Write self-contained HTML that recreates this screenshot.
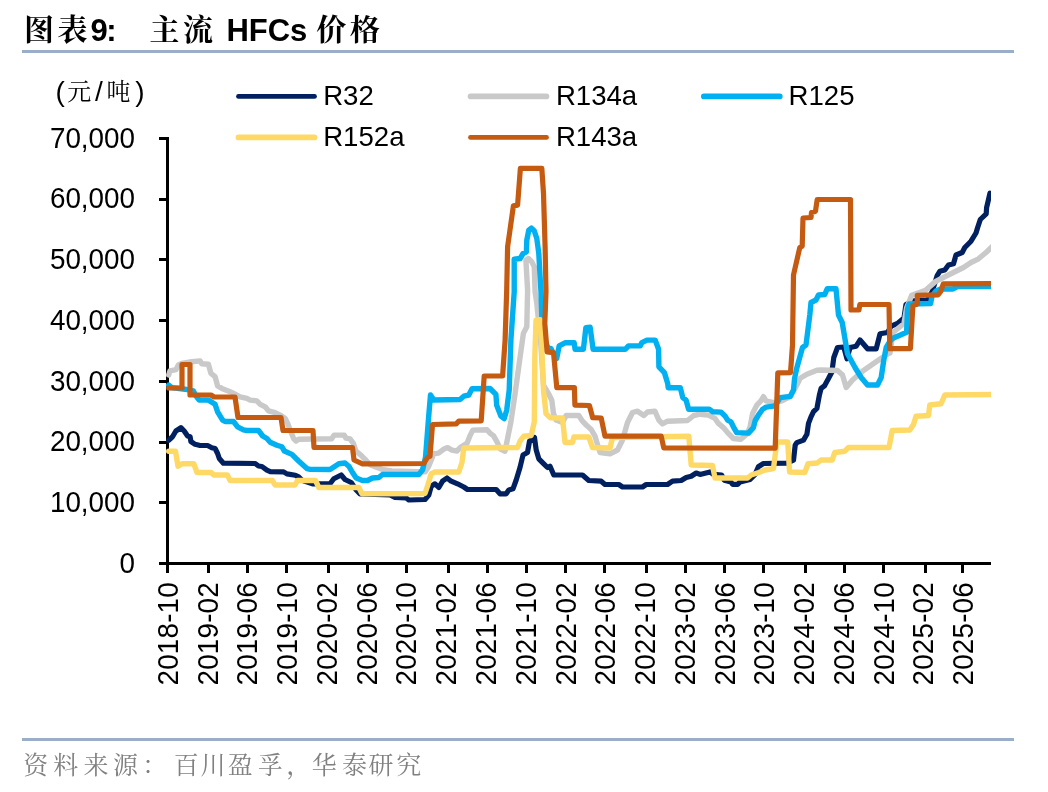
<!DOCTYPE html>
<html lang="zh-CN"><head><meta charset="utf-8"><title>图表9: 主流 HFCs 价格</title>
<style>
html,body{margin:0;padding:0;background:#fff}
body{width:1048px;height:792px;position:relative;overflow:hidden;font-family:"Liberation Sans","Noto Serif CJK SC",serif}
.t{position:absolute;white-space:pre;line-height:1}
.title{font-weight:bold;font-size:30px;color:#000;top:14.8px}
.title .c{display:inline-block;width:33.5px;text-align:center}
.lat{font-size:31px;top:15px}
.rule{position:absolute;left:22px;width:991.5px;height:3px;background:#9AAEC9}
.src{position:absolute;left:0;top:753px;height:30px;width:500px;font-size:25px;color:#808080;line-height:1;white-space:pre}
.src span{position:absolute;top:0;text-align:center;display:block}
.unit{font-size:28px;color:#000;top:76.7px}
.unit span{font-size:28px;vertical-align:middle}
.unit span.k{font-size:24px}
</style></head><body>
<div class="t title" style="left:22.2px"><span class="c">图</span><span class="c">表</span></div>
<div class="t title lat" style="left:90.5px;letter-spacing:-1.5px">9:</div>
<div class="t title" style="left:147.7px"><span class="c">主</span><span class="c">流</span></div>
<div class="t title lat" style="left:226.4px">HFCs</div>
<div class="t title" style="left:314.4px"><span class="c">价</span><span class="c">格</span></div>
<div class="rule" style="top:50px"></div>
<div class="t unit" style="left:55.4px"><span style="display:inline-block;width:10px">(</span><span class="k" style="display:inline-block;width:27.6px;text-align:center">元</span><span style="display:inline-block;width:11.6px;text-align:center">/</span><span class="k" style="display:inline-block;width:27.6px;text-align:center">吨</span><span style="display:inline-block;width:12.5px;text-align:right">)</span></div>
<svg width="1048" height="792" viewBox="0 0 1048 792" style="position:absolute;left:0;top:0">
<g stroke="#000" stroke-width="3" fill="none" shape-rendering="crispEdges">
<line x1="167.5" y1="137" x2="167.5" y2="572.5"/>
<line x1="159" y1="563.5" x2="991" y2="563.5"/>
<line x1="159" y1="502.79" x2="169" y2="502.79"/>
<line x1="159" y1="442.07" x2="169" y2="442.07"/>
<line x1="159" y1="381.36" x2="169" y2="381.36"/>
<line x1="159" y1="320.64" x2="169" y2="320.64"/>
<line x1="159" y1="259.93" x2="169" y2="259.93"/>
<line x1="159" y1="199.21" x2="169" y2="199.21"/>
<line x1="159" y1="138.50" x2="169" y2="138.50"/>
<line x1="208.40" y1="562" x2="208.40" y2="572.5"/>
<line x1="247.40" y1="562" x2="247.40" y2="572.5"/>
<line x1="286.40" y1="562" x2="286.40" y2="572.5"/>
<line x1="328.00" y1="562" x2="328.00" y2="572.5"/>
<line x1="367.30" y1="562" x2="367.30" y2="572.5"/>
<line x1="406.30" y1="562" x2="406.30" y2="572.5"/>
<line x1="448.20" y1="562" x2="448.20" y2="572.5"/>
<line x1="487.40" y1="562" x2="487.40" y2="572.5"/>
<line x1="526.40" y1="562" x2="526.40" y2="572.5"/>
<line x1="565.70" y1="562" x2="565.70" y2="572.5"/>
<line x1="604.50" y1="562" x2="604.50" y2="572.5"/>
<line x1="646.10" y1="562" x2="646.10" y2="572.5"/>
<line x1="685.40" y1="562" x2="685.40" y2="572.5"/>
<line x1="724.00" y1="562" x2="724.00" y2="572.5"/>
<line x1="763.30" y1="562" x2="763.30" y2="572.5"/>
<line x1="805.00" y1="562" x2="805.00" y2="572.5"/>
<line x1="844.30" y1="562" x2="844.30" y2="572.5"/>
<line x1="883.30" y1="562" x2="883.30" y2="572.5"/>
<line x1="925.20" y1="562" x2="925.20" y2="572.5"/>
<line x1="962.60" y1="562" x2="962.60" y2="572.5"/>
</g>
<defs><clipPath id="plot"><rect x="150" y="100" width="841" height="480"/></clipPath></defs>
<g clip-path="url(#plot)">
<polyline points="168.7,440.2 172.5,436.8 175.9,431.0 180.9,427.6 184.2,431.0 187.6,436.0 190.1,436.8 190.9,441.5 195.1,444.3 200.1,445.5 207.6,445.5 211.8,447.7 215.1,448.5 217.6,453.5 219.3,458.5 223.4,463.2 255.2,463.5 258.5,466.0 261.9,466.5 266.9,470.2 270.2,471.6 283.6,471.9 286.9,473.9 295.3,475.2 298.6,476.9 301.9,480.2 312.5,483.8 330.0,483.8 333.8,478.8 341.2,475.0 345.0,479.5 351.2,482.5 356.2,490.0 360.0,493.8 390.0,495.0 395.0,497.5 406.2,498.0 408.8,500.0 425.0,499.5 428.8,495.0 431.2,486.2 435.0,483.8 438.8,487.5 442.5,481.2 447.0,478.0 451.2,481.2 457.5,483.8 463.8,487.0 467.5,489.5 496.2,489.5 500.0,493.8 506.2,493.8 508.8,490.0 513.0,488.8 516.2,480.0 520.0,467.5 523.0,455.0 527.5,452.5 529.5,441.2 534.5,437.5 536.2,450.0 538.8,458.8 543.8,463.8 547.5,467.5 550.0,466.2 553.8,475.0 582.5,475.0 588.8,480.5 601.2,481.2 605.0,484.5 618.8,484.5 622.5,487.0 642.5,487.0 646.2,484.5 667.5,484.5 672.5,481.2 681.2,480.5 686.2,477.5 691.2,476.2 696.2,473.0 700.0,474.4 710.0,471.9 713.4,474.4 721.7,475.2 724.2,480.2 730.9,481.9 732.6,484.4 737.6,484.4 740.1,481.9 750.1,479.4 755.1,474.4 758.4,466.8 763.5,463.5 786.8,463.2 793.5,460.2 795.2,445.1 796.8,442.6 803.5,440.1 806.9,434.3 808.5,423.4 811.0,416.8 813.5,411.7 816.9,408.4 819.4,395.0 821.1,388.4 824.4,385.9 828.6,378.3 831.9,372.0 833.8,357.5 837.5,347.5 843.8,347.0 847.0,358.8 850.0,347.5 856.2,346.2 860.0,340.0 867.5,348.8 876.2,348.8 880.0,333.8 887.5,332.5 891.2,326.2 897.5,323.5 904.0,318.0 906.0,304.5 913.0,300.8 927.5,300.3 932.0,292.0 935.5,281.0 937.2,275.5 939.8,271.3 944.8,270.0 948.5,265.0 953.5,263.8 956.0,255.0 962.2,252.5 964.8,247.5 971.0,241.2 976.0,233.0 977.5,228.0 980.3,219.5 986.2,213.8 986.6,207.6 988.5,199.5 990.0,193.2" fill="none" stroke="#002060" stroke-width="5.2" stroke-linejoin="round" stroke-linecap="round"/>
<polyline points="168.7,375.0 170.0,370.9 175.9,369.7 178.4,365.0 181.7,363.4 191.7,361.7 200.1,360.9 201.7,363.7 208.4,364.2 210.9,373.4 215.1,376.7 217.6,385.9 221.8,388.4 230.1,391.7 235.1,394.2 240.1,396.8 246.8,398.4 250.2,400.1 256.8,400.9 260.2,404.3 265.2,406.8 268.5,410.9 275.2,412.6 280.2,415.1 285.2,418.5 287.7,423.5 290.2,430.1 293.6,438.5 296.1,441.0 298.6,439.3 331.7,438.8 334.2,435.1 344.2,435.1 345.9,438.1 350.0,438.8 353.4,443.4 355.9,451.0 360.9,455.1 365.1,459.3 370.1,464.8 375.1,466.8 381.8,469.3 391.8,471.0 418.5,471.8 425.2,471.8 428.5,466.8 431.9,458.5 433.5,453.8 438.5,453.1 443.5,449.3 447.7,447.6 451.9,450.1 456.9,451.0 460.2,447.6 466.9,443.4 470.3,435.1 472.8,430.1 487.0,429.7 490.3,433.4 493.6,435.9 497.0,441.8 500.0,448.8 505.0,451.2 510.9,421.9 515.1,393.5 520.1,356.8 523.4,333.4 526.8,326.7 527.6,290.0 525.9,260.2 528.4,258.5 531.8,261.9 534.3,266.9 535.1,291.9 536.8,303.4 540.5,340.0 543.5,385.0 548.5,393.5 551.8,400.2 553.5,413.6 556.0,420.0 562.5,422.5 566.2,415.5 578.8,415.5 582.5,421.2 586.2,425.0 591.2,429.5 595.0,436.2 600.0,452.5 610.0,453.8 617.5,450.0 622.5,440.0 627.5,422.5 632.5,412.5 637.5,411.2 643.8,415.5 647.5,412.0 655.0,411.2 658.8,420.0 662.5,423.8 667.5,421.2 687.5,420.5 693.8,415.5 700.0,414.2 708.3,415.1 715.0,418.4 718.4,423.4 723.4,427.6 728.4,433.4 733.4,438.5 740.9,439.3 746.8,434.3 750.1,426.8 752.6,413.4 756.8,405.1 760.9,400.9 763.5,396.7 766.0,400.9 773.5,402.6 781.8,400.9 790.2,396.7 797.7,383.4 800.2,378.3 806.9,374.2 816.9,370.2 821.2,370.0 837.5,370.5 842.5,375.0 846.2,387.5 852.5,380.0 862.5,371.2 875.0,362.5 887.5,354.0 890.0,353.0 893.0,332.5 904.0,323.5 906.6,308.0 911.7,295.3 925.6,290.2 935.7,281.4 948.3,275.0 958.4,270.0 963.5,267.5 971.0,262.5 978.5,258.8 986.0,252.5 994.0,245.0" fill="none" stroke="#C9C9C9" stroke-width="5.4" stroke-linejoin="round" stroke-linecap="round"/>
<polyline points="168.7,385.1 171.7,387.6 185.0,389.2 193.4,390.9 195.9,395.9 199.2,400.1 208.4,400.1 215.1,404.3 217.6,411.8 222.6,420.1 225.1,421.5 233.5,421.5 237.6,426.8 243.5,429.8 246.8,430.5 258.5,430.5 262.7,436.0 266.9,438.5 270.2,442.2 276.9,445.2 281.9,446.8 284.4,451.0 291.9,454.4 298.6,461.0 306.9,468.6 310.3,469.4 330.0,469.5 335.0,466.2 338.8,463.8 345.0,463.0 348.8,466.2 352.5,472.5 356.2,478.0 362.5,480.5 367.5,480.5 372.5,478.0 378.8,477.5 382.5,474.5 417.5,474.5 418.8,474.5 422.5,470.0 425.5,457.5 428.8,415.0 430.5,395.0 433.8,400.0 460.0,399.5 463.8,396.2 468.8,395.0 472.0,388.8 490.0,388.5 495.9,394.4 496.7,405.2 500.9,416.1 504.2,418.6 506.7,410.2 509.2,390.2 510.9,340.1 514.2,291.9 514.2,259.3 520.1,258.5 523.1,253.5 526.4,251.8 526.8,240.1 528.8,230.1 531.4,228.1 534.3,231.0 536.8,238.5 538.8,253.5 540.1,276.9 541.0,291.9 541.8,316.7 545.0,340.0 548.3,349.3 550.9,348.4 553.4,353.4 556.7,358.4 559.2,345.9 565.0,342.8 574.2,342.8 575.1,349.3 583.4,349.3 585.9,327.6 590.1,327.2 593.1,349.3 625.2,349.3 628.5,345.9 640.2,345.9 641.9,342.6 646.9,340.1 655.2,340.1 658.6,349.3 658.9,366.8 664.4,372.6 667.7,383.5 668.2,387.7 680.3,387.7 682.8,397.7 686.1,400.2 688.6,409.2 700.0,409.2 709.2,409.2 712.5,411.7 720.9,412.1 725.0,415.9 727.6,420.1 730.9,421.8 733.4,426.8 736.7,432.6 748.4,433.1 753.4,427.6 755.1,420.9 758.4,415.1 762.6,409.2 766.0,407.1 775.1,405.9 780.1,397.6 790.2,396.4 793.5,390.0 794.6,378.3 796.8,368.0 802.5,347.5 806.0,345.0 809.8,315.0 811.0,302.5 816.0,300.0 818.5,295.0 824.8,294.5 827.2,288.8 836.0,288.8 838.5,315.0 842.2,322.5 846.0,345.0 847.5,353.8 855.0,367.5 861.2,377.5 867.5,385.0 877.5,385.0 881.2,377.5 883.8,360.0 886.2,347.5 890.5,340.5 893.5,338.0 901.0,334.8 906.6,332.3 907.5,309.0 909.0,304.0 930.6,303.5 932.0,296.0 936.0,291.0 940.7,289.0 953.0,289.0 957.2,286.6 994.0,286.6" fill="none" stroke="#00B0F0" stroke-width="5.4" stroke-linejoin="round" stroke-linecap="round"/>
<polyline points="168.7,451.2 175.5,451.2 178.0,466.2 182.0,463.8 193.8,463.8 197.0,472.5 211.2,472.5 213.8,475.0 227.5,475.0 230.0,480.5 272.5,480.5 275.0,485.0 295.0,485.0 297.5,480.5 315.5,480.5 318.8,487.5 358.8,487.5 362.0,493.8 425.0,493.5 427.5,486.2 431.2,473.8 435.0,472.0 458.8,472.0 462.0,462.5 463.8,448.0 517.5,447.5 520.0,441.2 523.8,436.2 531.2,435.5 534.3,421.9 534.8,356.8 536.0,320.1 540.1,319.7 541.5,340.1 543.5,390.2 546.0,413.6 550.1,417.7 562.5,418.0 565.0,442.5 572.5,442.5 573.8,437.0 588.8,437.0 592.5,447.5 610.0,448.0 612.5,437.5 688.8,436.2 691.2,465.0 712.5,465.5 715.0,478.0 747.5,478.0 751.2,475.0 758.8,472.5 765.0,470.0 773.5,468.5 776.8,442.0 787.7,442.0 789.6,472.0 804.8,472.5 808.0,463.8 817.2,463.0 821.0,460.0 832.2,460.0 834.8,452.5 844.8,451.2 848.5,447.5 889.0,447.5 892.2,430.5 909.8,430.0 913.5,424.5 916.0,416.2 928.5,415.5 929.8,405.0 941.0,403.8 944.8,395.0 994.0,394.5" fill="none" stroke="#FFD966" stroke-width="5.4" stroke-linejoin="round" stroke-linecap="round"/>
<polyline points="168.7,388.0 182.0,388.0 182.0,364.5 190.0,364.5 190.0,395.0 211.0,395.0 214.0,397.0 235.0,397.0 238.0,417.5 281.0,417.5 283.0,430.5 313.0,430.5 314.0,447.5 352.5,447.5 354.0,460.0 362.5,463.8 423.8,463.5 427.5,457.5 430.0,456.2 432.5,424.5 456.2,423.8 458.8,421.2 481.2,420.8 484.2,376.0 502.6,376.0 505.1,340.1 506.7,290.0 507.6,246.8 513.4,205.9 517.6,205.1 520.4,168.3 541.8,168.3 543.5,193.4 545.1,246.8 546.0,291.9 544.8,323.4 547.1,351.8 553.5,352.6 556.8,387.7 574.4,387.7 574.9,405.2 589.4,405.5 592.7,417.7 601.2,418.0 605.0,436.2 661.2,436.2 663.8,448.0 775.2,448.2 777.8,372.8 790.5,372.6 792.5,345.0 793.5,275.0 799.8,247.5 802.2,246.2 803.0,218.0 811.0,217.5 811.5,212.5 815.5,211.2 817.2,199.5 850.5,199.5 851.0,310.0 859.0,310.0 859.8,304.5 889.0,304.5 889.8,348.6 910.4,348.6 912.9,305.4 917.3,304.0 917.3,295.3 938.2,294.8 940.7,291.5 943.3,283.9 994.0,283.7" fill="none" stroke="#C55A11" stroke-width="5.2" stroke-linejoin="round" stroke-linecap="round"/>
</g>
<g font-family="'Liberation Sans', sans-serif" font-size="29.6" fill="#000">
<text transform="translate(135,572.70) scale(0.94,1)" text-anchor="end">0</text>
<text transform="translate(135,511.99) scale(0.94,1)" text-anchor="end">10,000</text>
<text transform="translate(135,451.27) scale(0.94,1)" text-anchor="end">20,000</text>
<text transform="translate(135,390.56) scale(0.94,1)" text-anchor="end">30,000</text>
<text transform="translate(135,329.84) scale(0.94,1)" text-anchor="end">40,000</text>
<text transform="translate(135,269.13) scale(0.94,1)" text-anchor="end">50,000</text>
<text transform="translate(135,208.41) scale(0.94,1)" text-anchor="end">60,000</text>
<text transform="translate(135,147.70) scale(0.94,1)" text-anchor="end">70,000</text>
<text transform="translate(177.90,685.5) rotate(-90) scale(0.94,1)" letter-spacing="0.2">2018-10</text>
<text transform="translate(217.66,685.5) rotate(-90) scale(0.94,1)" letter-spacing="0.2">2019-02</text>
<text transform="translate(257.43,685.5) rotate(-90) scale(0.94,1)" letter-spacing="0.2">2019-06</text>
<text transform="translate(297.20,685.5) rotate(-90) scale(0.94,1)" letter-spacing="0.2">2019-10</text>
<text transform="translate(336.96,685.5) rotate(-90) scale(0.94,1)" letter-spacing="0.2">2020-02</text>
<text transform="translate(376.73,685.5) rotate(-90) scale(0.94,1)" letter-spacing="0.2">2020-06</text>
<text transform="translate(416.49,685.5) rotate(-90) scale(0.94,1)" letter-spacing="0.2">2020-10</text>
<text transform="translate(456.26,685.5) rotate(-90) scale(0.94,1)" letter-spacing="0.2">2021-02</text>
<text transform="translate(496.02,685.5) rotate(-90) scale(0.94,1)" letter-spacing="0.2">2021-06</text>
<text transform="translate(535.78,685.5) rotate(-90) scale(0.94,1)" letter-spacing="0.2">2021-10</text>
<text transform="translate(575.55,685.5) rotate(-90) scale(0.94,1)" letter-spacing="0.2">2022-02</text>
<text transform="translate(615.32,685.5) rotate(-90) scale(0.94,1)" letter-spacing="0.2">2022-06</text>
<text transform="translate(655.08,685.5) rotate(-90) scale(0.94,1)" letter-spacing="0.2">2022-10</text>
<text transform="translate(694.85,685.5) rotate(-90) scale(0.94,1)" letter-spacing="0.2">2023-02</text>
<text transform="translate(734.61,685.5) rotate(-90) scale(0.94,1)" letter-spacing="0.2">2023-06</text>
<text transform="translate(774.38,685.5) rotate(-90) scale(0.94,1)" letter-spacing="0.2">2023-10</text>
<text transform="translate(814.14,685.5) rotate(-90) scale(0.94,1)" letter-spacing="0.2">2024-02</text>
<text transform="translate(853.91,685.5) rotate(-90) scale(0.94,1)" letter-spacing="0.2">2024-06</text>
<text transform="translate(893.67,685.5) rotate(-90) scale(0.94,1)" letter-spacing="0.2">2024-10</text>
<text transform="translate(933.44,685.5) rotate(-90) scale(0.94,1)" letter-spacing="0.2">2025-02</text>
<text transform="translate(973.20,685.5) rotate(-90) scale(0.94,1)" letter-spacing="0.2">2025-06</text>
<line x1="238.5" y1="96.4" x2="314.5" y2="96.4" stroke="#002060" stroke-width="4.8" stroke-linecap="round"/>
<text x="323.2" y="104.5" font-size="27.6">R32</text>
<line x1="470.5" y1="96.4" x2="546.5" y2="96.4" stroke="#C9C9C9" stroke-width="5.6" stroke-linecap="round"/>
<text x="555.9" y="104.5" font-size="27.6">R134a</text>
<line x1="703.8" y1="96.4" x2="779.8" y2="96.4" stroke="#00B0F0" stroke-width="5.6" stroke-linecap="round"/>
<text x="788.6" y="104.5" font-size="27.6">R125</text>
<line x1="238.5" y1="137.4" x2="314.5" y2="137.4" stroke="#FFD966" stroke-width="5.8" stroke-linecap="round"/>
<text x="323.2" y="145.5" font-size="27.6">R152a</text>
<line x1="470.5" y1="137.4" x2="546.5" y2="137.4" stroke="#C55A11" stroke-width="4.8" stroke-linecap="round"/>
<text x="555.9" y="145.5" font-size="27.6">R143a</text>
</g>
</svg>
<div class="rule" style="top:737.5px"></div>
<div class="src"><span style="left:20.8px;width:30px">资</span><span style="left:50.8px;width:30px">料</span><span style="left:80.9px;width:30px">来</span><span style="left:110.5px;width:30px">源</span><span style="left:142.2px;width:30px;text-align:left">：</span><span style="left:171.3px;width:30px">百</span><span style="left:198.0px;width:30px">川</span><span style="left:225.2px;width:30px">盈</span><span style="left:255.2px;width:30px">孚</span><span style="left:286.3px;width:30px;text-align:left">，</span><span style="left:309.3px;width:30px">华</span><span style="left:339.4px;width:30px">泰</span><span style="left:366.1px;width:30px">研</span><span style="left:393.8px;width:30px">究</span></div>
</body></html>
